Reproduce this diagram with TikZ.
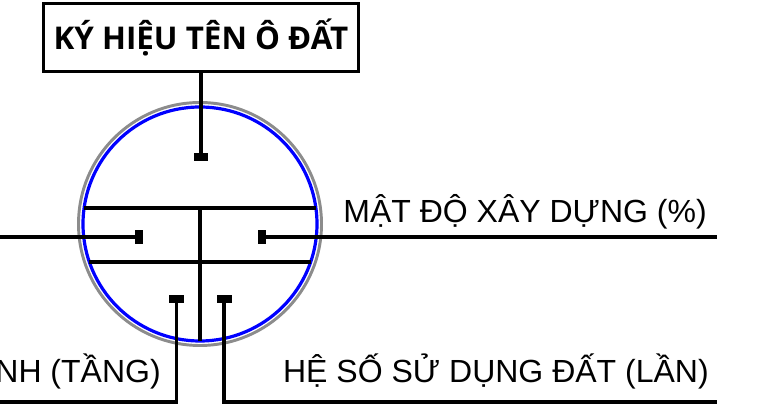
\documentclass[tikz,border=0pt]{standalone}
\usepackage{fontspec}
\setmainfont{Liberation Sans}
\newfontfamily\titlefont{Open Sans}
\usetikzlibrary{calc}
\definecolor{pGray}{HTML}{8C8C8C}
\definecolor{pBlue}{HTML}{0000FF}

\begin{document}
\begin{tikzpicture}[x=0.75pt, y=-0.75pt,
  lead/.style={line width=2.4pt},
  tick/.style={fill=black, inner sep=0pt, outer sep=0pt},
  htick/.style={tick, minimum width=10.5pt, minimum height=6pt},
  vtick/.style={tick, minimum width=6pt, minimum height=10.5pt},
  lbl/.style={inner sep=0pt, font=\fontsize{24}{28}\selectfont}]
  \useasboundingbox (0,0) rectangle (758,413);
  \node[draw, line width=2pt, inner sep=0pt, minimum width=236.5pt, minimum height=51.3pt,
        font=\titlefont\bfseries\fontsize{23.5}{28}\selectfont] (title) at (201,37.5) {KÝ HIỆU TÊN Ô ĐẤT};
  \draw[pGray, line width=2.2pt] (200,224) circle [radius=121.5];
  \draw[pBlue, line width=2.4pt] (200,224) circle [radius=117];
  \draw[lead] (83.6,208) -- (316.4,208);
  \draw[lead] (88.7,262) -- (311.3,262);
  \draw[lead] (200,208) -- (200,341);
  \node[htick] (mTop) at (201,157) {};
  \node[vtick] (mL) at (139,237) {};
  \node[vtick] (mR) at (262,237) {};
  \node[htick, minimum width=11.25pt] (mBL) at (176.5,299) {};
  \node[htick, minimum width=11.25pt] (mBR) at (224,299) {};
  \coordinate (eL) at (0,237);
  \coordinate (eR) at (717,237);
  \coordinate (eBL) at (0,402);
  \coordinate (eBR) at (717,402);
  \draw[lead] (title.south) -- (mTop.north);
  \draw[lead] (mL.west) -- (eL);
  \draw[lead] (mR.east) -- (eR);
  \draw[lead] (mBL.south) |- (eBL);
  \draw[lead] (mBR.south) |- (eBR);
  \node[lbl, anchor=base east] (density) at (707,223) {MẬT ĐỘ XÂY DỰNG (\%)};
  \node[lbl, anchor=base east] (floors) at (161,383) {NH (TẦNG)};
  \node[lbl, anchor=base east] (ratio) at (709,383) {HỆ SỐ SỬ DỤNG ĐẤT (LẦN)};
\end{tikzpicture}
\end{document}
